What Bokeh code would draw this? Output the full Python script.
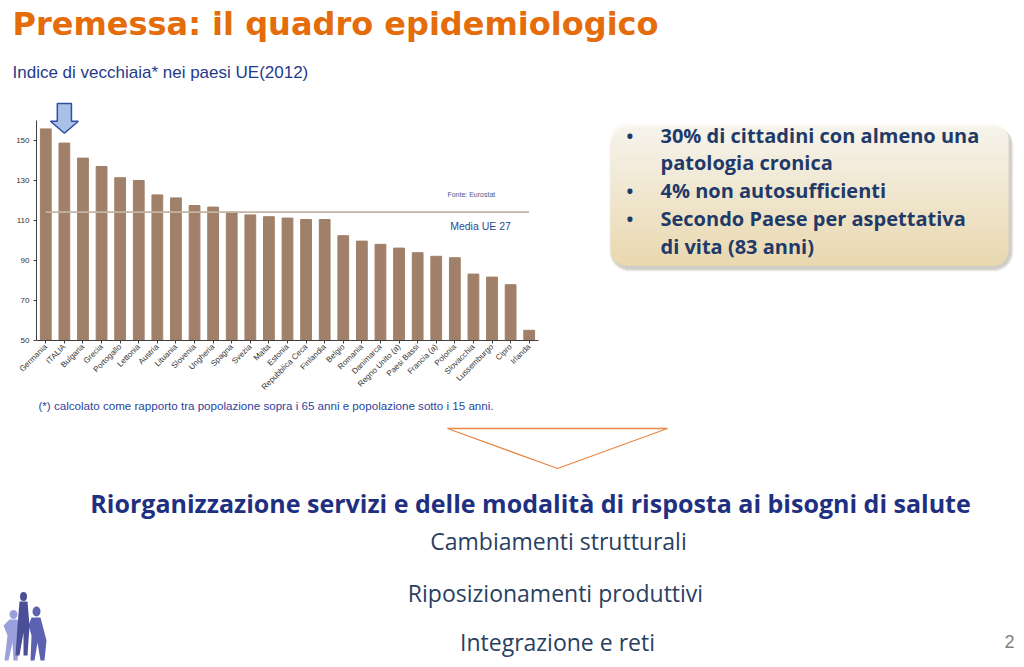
import numpy as np
from math import pi
from bokeh.plotting import figure
from bokeh.models import Range1d, FactorRange, FixedTicker
from bokeh.layouts import column, row
from bokeh.embed import file_html
from bokeh.resources import INLINE
from bokeh.core.properties import value

# ---------------- data ----------------
countries = ["Germania", "ITALIA", "Bulgaria", "Grecia", "Portogallo", "Lettonia",
             "Austria", "Lituania", "Slovenia", "Ungheria", "Spagna", "Svezia",
             "Malta", "Estonia", "Repubblica Ceca", "Finlandia", "Belgio", "Romania",
             "Danimarca", "Regno Unito (a)", "Paesi Bassi", "Francia (a)", "Polonia",
             "Slovacchia", "Lussemburgo", "Cipro", "Irlanda"]
ageing_index = [155.8, 148.7, 141.2, 137.0, 131.4, 130.0,
                122.8, 121.3, 117.5, 116.7, 114.2, 112.8,
                111.9, 111.2, 110.5, 110.5, 102.4, 99.7,
                98.1, 96.2, 93.9, 92.1, 91.4,
                83.2, 81.7, 77.9, 55.1]
eu27_average = 114.2
y_ticks = [50, 70, 90, 110, 130, 150]
highlight = "ITALIA"

title_text = "Premessa: il quadro epidemiologico"
subtitle_text = "Indice di vecchiaia* nei paesi UE(2012)"
source_text = "Fonte: Eurostat"
avg_text = "Media UE 27"
note_text = "(*) calcolato come rapporto tra popolazione sopra i 65 anni e popolazione sotto i 15 anni."
box_lines = ["30% di cittadini con almeno una", "patologia cronica",
             "4% non autosufficienti", "Secondo Paese per aspettativa", "di vita (83 anni)"]
box_bullets = [True, False, True, True, False]
main_text = "Riorganizzazione servizi e delle modalità di risposta ai bisogni di salute"
sub_items = ["Cambiamenti strutturali", "Riposizionamenti produttivi", "Integrazione e reti"]
page_number = "2"


def deco_fig(w, h, x0, y0, y1=None, **kw):
    if y1 is None:
        y1 = y0 + h
    f = figure(width=w, height=h, x_range=Range1d(x0, x0 + w), y_range=Range1d(y1, y0),
               output_backend="svg", toolbar_location=None, x_axis_type=None, y_axis_type=None,
               outline_line_color=None, **kw)
    f.background_fill_color = "white"
    return f


# ---------------- title ----------------
TOP_H = 92
top = deco_fig(1024, TOP_H, 0, 0, min_border=0)
top.text(x=[12], y=[23], text=[title_text], text_font=value("DejaVu Sans"), text_font_style="bold",
         text_font_size="32px", text_color="#e46c0a", text_baseline="middle")
top.text(x=[12], y=[72], text=[subtitle_text], text_font=value("Liberation Sans"),
         text_font_size="17px", text_color="#1f3a8a", text_baseline="middle")

# ---------------- chart ----------------
BT, FH, BB = 100 - TOP_H, 240, 57
CH_H = BT + FH + BB
chart = figure(width=560, height=CH_H, x_range=FactorRange(*countries), y_range=Range1d(50, 170),
               output_backend="svg", toolbar_location=None, min_border_left=36, min_border_right=22,
               min_border_top=BT, min_border_bottom=BB, outline_line_color=None)
chart.vbar(x=countries, top=ageing_index, bottom=50, width=0.58, color="#a08068")
chart.segment(x0=[countries[0]], y0=[eu27_average], x1=[countries[-1]], y1=[eu27_average],
              line_color="#c4b4a4", line_width=1.8)

h = highlight
chart.patch(x=[(h, -0.38), (h, 0.38), (h, 0.38), (h, 0.75), (h, 0.0), (h, -0.75), (h, -0.38)],
            y=[168.5, 168.5, 159.6, 159.6, 153.6, 159.6, 159.6],
            fill_color="#a9c1e8", line_color="#2f4f9f", line_width=1.5)

anchor = countries[22]
chart.text(x=[(anchor, -0.4)], y=[123], text=[source_text], text_font=value("Liberation Sans"),
           text_font_size="7px", text_color="#4a5a8a", text_baseline="middle")
chart.text(x=[(anchor, -0.25)], y=[107.5], text=[avg_text], text_font=value("Liberation Sans"),
           text_font_size="10.5px", text_color="#2a4a90", text_baseline="middle")

chart.xgrid.grid_line_color = None
chart.ygrid.grid_line_color = None
chart.yaxis.ticker = FixedTicker(ticks=y_ticks)
chart.yaxis.bounds = (50, 160)
for ax in (chart.xaxis, chart.yaxis):
    ax.axis_line_color = "#404040"
    ax.major_tick_line_color = "#404040"
    ax.major_tick_in = 0
    ax.major_tick_out = 3
    ax.minor_tick_line_color = None
    ax.major_label_text_font = "Liberation Sans"
    ax.major_label_text_color = "#333333"
    ax.major_label_text_font_size = "8px"
chart.xaxis.major_label_orientation = pi / 4
chart.xaxis.major_label_standoff = 2
chart.yaxis.major_label_standoff = 4

# ---------------- box ----------------
# the row aligns plot frames: this frame shares the chart's frame (page y 100..340)
box = deco_fig(464, CH_H, 560, 100, 340, min_border_left=0, min_border_right=0,
               min_border_top=BT, min_border_bottom=BB)
bx0, bx1, by0, by1, rad = 610, 1008, 123, 265, 16


def rounded(x0, x1, y0, y1, r, step=1.0):
    ys = np.arange(y0, y1, step)
    d = np.minimum(ys + step / 2 - y0, y1 - (ys + step / 2))
    inset = np.where(d < r, r - np.sqrt(np.maximum(r ** 2 - (r - d) ** 2, 0)), 0)
    return ys, x0 + inset, x1 - inset


for k, a in [(4, 0.10), (3, 0.15), (2, 0.2)]:
    ys, ls, rs = rounded(bx0 - k + 3, bx1 + k + 1, by0 + 3, by1 + k + 2, rad + k)
    box.quad(left=ls, right=rs, top=ys, bottom=ys + 1.05, fill_color="#8a8070", fill_alpha=a,
             line_color=None)
ys, ls, rs = rounded(bx0, bx1, by0, by1, rad)
t = (ys - by0) / (by1 - by0)
c0 = np.array([252, 250, 244])
c1 = np.array([237, 218, 172])
cols = ["#%02x%02x%02x" % tuple(int(v) for v in (c0 + (c1 - c0) * tt)) for tt in t]
box.quad(left=ls, right=rs, top=ys, bottom=ys + 1.2, fill_color=cols, line_color=None)

line_y = [135, 162, 190, 218, 246]
box.text(x=[660] * len(box_lines), y=line_y, text=box_lines, text_font=value("Open Sans"),
         text_font_style="bold", text_font_size="20px", text_color="#1f3a68", text_baseline="middle")
by = [yy for yy, b in zip(line_y, box_bullets) if b]
box.text(x=[626] * len(by), y=by, text=["•"] * len(by), text_font=value("Open Sans"),
         text_font_style="bold", text_font_size="18px", text_color="#1f3a68", text_baseline="middle")

# ---------------- bottom ----------------
B0 = TOP_H + CH_H
bot = deco_fig(1024, 667 - B0, 0, B0, min_border=0)
bot.text(x=[38], y=[405], text=[note_text], text_font=value("Liberation Sans"), text_font_size="11.6px",
         text_color="#2b45a0", text_baseline="middle")
bot.patch(x=[447, 667, 557], y=[428, 428, 468], fill_color="white", line_color="#e8884a", line_width=1.3)
bot.text(x=[530], y=[502], text=[main_text], text_font=value("Open Sans"), text_font_style="bold",
         text_font_size="25px", text_color="#1f3080", text_align="center", text_baseline="middle")
bot.text(x=[558, 555, 557], y=[540, 592, 641], text=sub_items, text_font=value("Open Sans"),
         text_font_size="23px", text_color="#2a3f5f", text_align="center", text_baseline="middle")
bot.text(x=[1009], y=[641], text=[page_number], text_font=value("Liberation Sans"), text_font_size="18px",
         text_color="#7f7f7f", text_align="center", text_baseline="middle")

# logo (three paper figures)
bot.patch(x=[9, 17, 20, 17, 13, 12, 8, 4, 7, 3], y=[619, 619, 632, 660, 660, 642, 660, 660, 635, 625],
          fill_color="#9aa0dc", line_color=None)
bot.ellipse(x=[13], y=[614], width=8, height=9, fill_color="#9aa0dc", line_color=None)
bot.patch(x=[31, 40, 46, 44, 40, 37, 34, 30, 31, 28], y=[617, 617, 640, 660, 660, 642, 660, 660, 635, 625],
          fill_color="#5c62b0", line_color=None)
bot.ellipse(x=[36], y=[611], width=8, height=10, fill_color="#5c62b0", line_color=None)
bot.patch(x=[19, 27, 29, 27, 23, 23, 19, 15, 17], y=[601, 601, 625, 655, 655, 632, 655, 655, 625],
          fill_color="#4a4f98", line_color=None)
bot.ellipse(x=[23], y=[596], width=7, height=9, fill_color="#4a4f98", line_color=None)

layout = column(top, row(chart, box, spacing=0), bot, spacing=0)
open("out.html", "w").write(file_html(layout, INLINE))
